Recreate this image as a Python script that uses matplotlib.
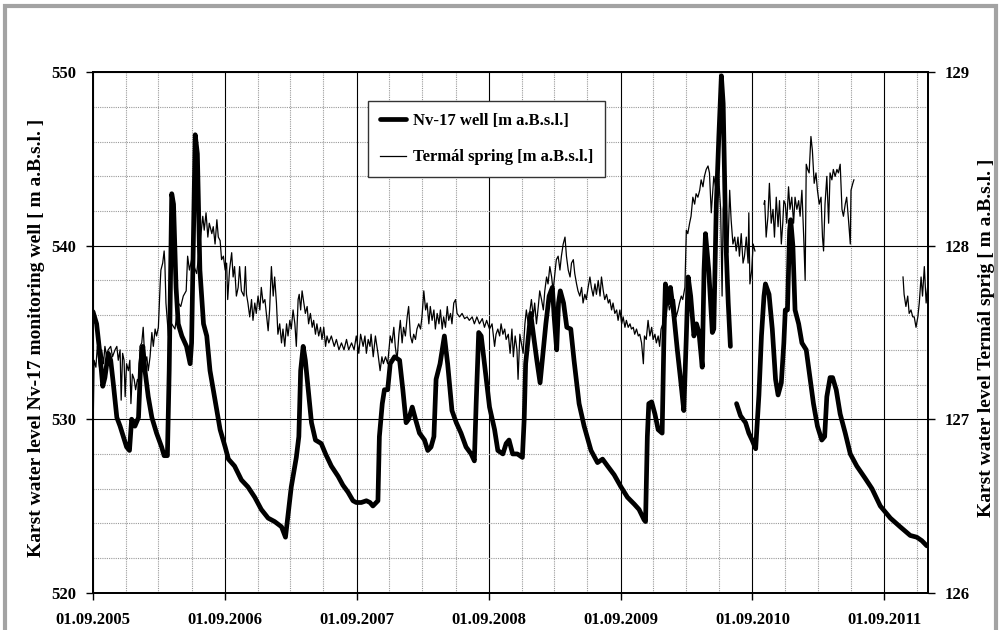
import numpy as np
import pandas as pd
import matplotlib
matplotlib.use("Agg")
import matplotlib.pyplot as plt
import matplotlib.dates as mdates
from matplotlib.patches import Rectangle
from matplotlib.ticker import MultipleLocator

plt.rcParams['font.family'] = ['Liberation Serif', 'DejaVu Serif']
plt.rcParams['font.weight'] = 'bold'

START = pd.Timestamp('2005-09-01')
END = pd.Timestamp('2012-01-01')

# Nv-17 well level [m a.B.s.l.]; day = days after 01.09.2005 (nan = gap)
well_day = [0, 10, 19, 27, 33, 42, 49, 56, 66, 75, 84, 93, 101, 107, 116, 126, 132, 138, 144, 153,
            163, 176, 190, 197, 206, 211, 218, 223, 230, 236, 246, 259, 269, 273, 278, 283, 289, 296,
            306, 315, 324, 338, 352, 366, 375, 392, 411, 429, 448, 466, 485, 503, 522, 533, 549, 563,
            570, 575, 582, 588, 596, 605, 616, 632, 644, 660, 679, 692, 706, 720, 729, 743, 757, 767,
            775, 789, 793, 801, 807, 816, 823, 835, 849, 858, 867, 874, 884, 893, 904, 918, 927, 936,
            944, 950, 961, 973, 982, 994, 1006, 1019, 1033, 1047, 1056, 1061, 1068, 1075, 1084, 1098,
            1112, 1121, 1135, 1144, 1152, 1162, 1175, 1189, 1194, 1198, 1208, 1212, 1220, 1229, 1238,
            1245, 1254, 1263, 1272, 1277, 1284, 1289, 1294, 1303, 1312, 1323, 1332, 1346, 1360, 1379,
            1397, 1411, 1425, 1443, 1462, 1480, 1499, 1512, 1526, 1530, 1535, 1539, 1547, 1556, 1565,
            1576, 1581, 1585, 1593, 1599, 1608, 1618, 1627, 1636, 1643, 1648, 1655, 1664, 1671, 1678,
            1687, 1692, 1696, 1705, 1715, 1719, 1726, 1733, 1740, 1745, 1752, 1759, 1765, 1773, 1782,
            1793, 1807, 1816, 1825, 1835, 1844, 1851, 1858, 1862, 1872, 1881, 1890, 1897, 1906, 1913,
            1917, 1923, 1929, 1932, 1938, 1944, 1954, 1963, 1975, 1986, 1995, 2006, 2018, 2026, 2032,
            2041, 2048, 2058, 2069, 2083, 2097, 2115, 2138, 2157, 2180, 2208, 2235, 2263, 2281, 2295,
            2309]
well_val = [536.2, 535.5, 533.8, 531.9, 532.4, 533.8, 533.4, 532.1, 530.1, 529.6, 529.0, 528.4, 528.2,
            530.0, 529.6, 530.1, 533.2, 534.2, 532.8, 531.3, 530.1, 529.2, 528.4, 527.9, 527.9, 532.8,
            543.0, 542.4, 537.6, 535.5, 534.8, 534.2, 533.2, 534.4, 540.5, 546.4, 545.3, 538.6, 535.5,
            534.8, 532.8, 531.1, 529.4, 528.4, 527.7, 527.3, 526.5, 526.1, 525.5, 524.8, 524.3, 524.1,
            523.8, 523.2, 526.1, 527.8, 529.0, 532.8, 534.2, 533.4, 531.7, 529.8, 528.8, 528.6, 528.0,
            527.3, 526.7, 526.2, 525.8, 525.3, 525.2, 525.2, 525.3, 525.2, 525.0, 525.3, 529.0, 530.9,
            531.7, 531.7, 533.2, 533.6, 533.4, 531.7, 529.8, 530.0, 530.7, 530.0, 529.2, 528.8, 528.2,
            528.4, 529.0, 532.3, 533.2, 534.8, 533.2, 530.5, 529.8, 529.2, 528.4, 528.0, 527.6, 530.9,
            535.0, 534.8, 533.2, 530.7, 529.4, 528.2, 528.0, 528.6, 528.8, 528.0, 528.0, 527.8, 530.0,
            533.2, 535.3, 536.1, 534.8, 533.4, 532.1, 533.6, 535.5, 537.1, 537.6, 535.9, 534.0, 536.7,
            537.4, 536.7, 535.3, 535.2, 533.4, 530.9, 529.6, 528.2, 527.5, 527.7, 527.3, 526.8, 526.1,
            525.5, 525.1, 524.8, 524.2, 524.1, 529.0, 530.9, 531.0, 530.3, 529.4, 529.2, 534.8, 537.8,
            536.7, 537.6, 536.1, 534.0, 532.3, 530.5, 534.8, 538.2, 537.1, 534.8, 535.5, 535.0, 533.0,
            538.6, 540.7, 538.6, 535.0, 535.2, 542.4, 546.3, 549.8, 548.2, 540.5, 536.7, 534.2, np.nan,
            530.9, 530.2, 529.8, 529.2, 528.8, 528.3, 531.4, 534.8, 537.1, 537.8, 537.2, 535.2, 532.3,
            531.4, 532.1, 534.4, 536.3, 536.3, 540.9, 541.5, 540.0, 536.3, 535.5, 534.4, 534.0, 532.3,
            530.9, 529.6, 528.8, 529.0, 531.3, 532.4, 532.4, 531.7, 530.3, 529.2, 528.0, 527.3, 526.6,
            526.0, 525.0, 524.3, 523.8, 523.3, 523.2, 523.0, 522.7]

# Termal spring level [m a.B.s.l.] (secondary axis); day = days after 01.09.2005 (nan = gap)
spring_day = [0, 3, 8, 12, 18, 24, 29, 33, 38, 42, 49, 54, 61, 66, 70, 75, 78, 82, 86, 89, 93, 98, 102,
              105, 109, 114, 118, 123, 127, 130, 135, 139, 144, 149, 153, 158, 163, 167, 172, 176, 181,
              186, 188, 193, 197, 199, 202, 209, 218, 227, 236, 243, 250, 258, 262, 267, 273, 280, 287,
              296, 304, 308, 313, 318, 322, 329, 333, 338, 343, 347, 352, 356, 361, 366, 370, 373, 378,
              384, 388, 392, 397, 402, 406, 411, 418, 422, 425, 429, 434, 439, 443, 448, 452, 457, 462,
              466, 471, 476, 480, 485, 489, 494, 499, 503, 508, 512, 517, 522, 526, 531, 536, 540, 545,
              549, 554, 559, 563, 568, 571, 575, 579, 584, 588, 593, 597, 602, 607, 611, 616, 620, 625,
              630, 634, 639, 644, 648, 653, 660, 668, 674, 681, 688, 695, 702, 708, 716, 723, 729, 736,
              741, 748, 753, 757, 762, 767, 770, 776, 782, 789, 795, 800, 804, 810, 816, 823, 828, 833,
              837, 842, 847, 851, 856, 860, 865, 870, 874, 879, 884, 888, 893, 897, 902, 907, 911, 916,
              921, 925, 930, 934, 939, 944, 948, 953, 958, 962, 967, 971, 976, 981, 985, 990, 994, 999,
              1004, 1008, 1015, 1022, 1029, 1036, 1042, 1050, 1056, 1063, 1070, 1078, 1084, 1090, 1098,
              1105, 1112, 1116, 1121, 1126, 1130, 1135, 1140, 1144, 1150, 1155, 1160, 1164, 1169, 1174,
              1177, 1182, 1186, 1191, 1196, 1200, 1205, 1210, 1214, 1219, 1223, 1228, 1233, 1237, 1242,
              1247, 1251, 1256, 1260, 1265, 1270, 1274, 1279, 1283, 1288, 1293, 1297, 1302, 1307, 1311,
              1316, 1321, 1325, 1330, 1334, 1339, 1343, 1348, 1353, 1357, 1362, 1366, 1371, 1376, 1380,
              1385, 1390, 1394, 1399, 1404, 1408, 1413, 1417, 1422, 1427, 1431, 1436, 1440, 1445, 1450,
              1454, 1459, 1464, 1468, 1473, 1477, 1482, 1487, 1491, 1496, 1500, 1505, 1510, 1514, 1519,
              1524, 1527, 1532, 1537, 1542, 1547, 1551, 1556, 1560, 1565, 1569, 1573, 1578, 1583, 1587,
              1592, 1596, 1601, 1606, 1610, 1615, 1620, 1624, 1629, 1633, 1639, 1643, 1647, 1652, 1656,
              1661, 1666, 1670, 1675, 1680, 1684, 1689, 1693, 1698, 1703, 1707, 1712, 1715, 1719, 1724,
              1729, 1733, 1738, 1742, 1745, 1750, 1753, 1758, 1763, 1767, 1772, 1777, 1781, 1786, 1790,
              1795, 1800, 1804, 1809, 1814, 1816, 1819, 1824, 1828, 1833, 1845, 1858, 1860, 1864, 1869,
              1873, 1878, 1883, 1887, 1892, 1897, 1901, 1906, 1910, 1913, 1917, 1921, 1926, 1930, 1935,
              1940, 1944, 1949, 1954, 1958, 1963, 1968, 1972, 1975, 1979, 1983, 1988, 1992, 1997, 2002,
              2006, 2011, 2016, 2020, 2023, 2027, 2032, 2037, 2041, 2046, 2050, 2055, 2060, 2064, 2069,
              2074, 2078, 2083, 2087, 2092, 2097, 2099, 2104, 2107, 2170, 2243, 2246, 2251, 2256, 2260,
              2265, 2270, 2274, 2279, 2284, 2288, 2293, 2297, 2302, 2307, 2311]
spring_val = [126.90, 127.34, 127.30, 127.42, 127.30, 127.40, 127.32, 127.42, 127.36, 127.40, 127.42,
              127.36, 127.40, 127.42, 127.34, 127.40, 127.11, 127.38, 127.34, 127.13, 127.32, 127.28,
              127.34, 127.09, 127.26, 127.23, 127.17, 127.23, 127.21, 127.42, 127.44, 127.53, 127.32,
              127.36, 127.28, 127.36, 127.50, 127.42, 127.52, 127.48, 127.53, 127.78, 127.86, 127.90,
              127.97, 127.90, 127.67, 127.48, 127.55, 127.52, 127.67, 127.65, 127.71, 127.74, 127.94,
              127.86, 127.92, 127.88, 127.84, 128.01, 128.17, 128.09, 128.19, 128.05, 128.13, 128.07,
              128.11, 128.01, 128.15, 128.05, 128.03, 127.92, 127.94, 127.86, 127.90, 127.69, 127.86,
              127.96, 127.82, 127.88, 127.71, 127.76, 127.88, 127.74, 127.71, 127.88, 127.72, 127.67,
              127.59, 127.69, 127.57, 127.67, 127.61, 127.71, 127.63, 127.76, 127.67, 127.69, 127.61,
              127.51, 127.63, 127.88, 127.71, 127.82, 127.67, 127.49, 127.55, 127.44, 127.52, 127.42,
              127.55, 127.48, 127.57, 127.52, 127.63, 127.55, 127.42, 127.69, 127.72, 127.63, 127.74,
              127.67, 127.61, 127.65, 127.55, 127.61, 127.53, 127.57, 127.49, 127.55, 127.48, 127.53,
              127.46, 127.53, 127.42, 127.48, 127.44, 127.48, 127.42, 127.46, 127.40, 127.44, 127.40,
              127.46, 127.40, 127.44, 127.40, 127.48, 127.38, 127.49, 127.42, 127.48, 127.38, 127.46,
              127.42, 127.49, 127.36, 127.48, 127.38, 127.28, 127.36, 127.32, 127.36, 127.32, 127.48,
              127.44, 127.53, 127.42, 127.34, 127.49, 127.57, 127.44, 127.53, 127.48, 127.59, 127.65,
              127.48, 127.44, 127.49, 127.46, 127.52, 127.55, 127.52, 127.59, 127.74, 127.63, 127.67,
              127.55, 127.65, 127.57, 127.63, 127.52, 127.61, 127.55, 127.63, 127.52, 127.59, 127.53,
              127.65, 127.57, 127.61, 127.55, 127.67, 127.69, 127.61, 127.59, 127.61, 127.58, 127.59,
              127.57, 127.59, 127.55, 127.59, 127.55, 127.58, 127.53, 127.57, 127.52, 127.55, 127.42,
              127.49, 127.52, 127.48, 127.55, 127.49, 127.52, 127.46, 127.49, 127.38, 127.52, 127.36,
              127.48, 127.40, 127.23, 127.49, 127.44, 127.38, 127.55, 127.63, 127.55, 127.63, 127.69,
              127.59, 127.67, 127.55, 127.65, 127.74, 127.69, 127.63, 127.74, 127.82, 127.78, 127.88,
              127.82, 127.74, 127.84, 127.92, 127.94, 127.86, 127.94, 128.01, 128.05, 127.94, 127.86,
              127.82, 127.90, 127.92, 127.84, 127.78, 127.74, 127.71, 127.76, 127.67, 127.72, 127.69,
              127.76, 127.82, 127.76, 127.71, 127.78, 127.72, 127.80, 127.71, 127.82, 127.74, 127.69,
              127.72, 127.67, 127.69, 127.63, 127.67, 127.61, 127.63, 127.57, 127.63, 127.55, 127.59,
              127.53, 127.57, 127.53, 127.55, 127.52, 127.53, 127.49, 127.52, 127.48, 127.49, 127.44,
              127.32, 127.48, 127.46, 127.57, 127.48, 127.53, 127.46, 127.49, 127.44, 127.48, 127.42,
              127.52, 127.55, 127.67, 127.59, 127.69, 127.63, 127.67, 127.59, 127.69, 127.59, 127.63,
              127.67, 127.71, 127.69, 127.76, 128.09, 128.07, 128.13, 128.17, 128.28, 128.24, 128.30,
              128.28, 128.32, 128.38, 128.34, 128.40, 128.44, 128.46, 128.42, 128.19, 128.28, 128.40,
              128.34, 128.46, 128.38, 128.21, 127.71, 128.21, 128.30, 128.17, 127.96, 128.32, 128.15,
              128.01, 128.05, 127.97, 128.05, 127.94, 128.07, 127.90, 127.94, 128.05, 127.90, 128.19,
              127.78, 127.86, 128.01, 127.97, np.nan, 128.24, 128.26, 128.05, 128.17, 128.36, 128.13,
              128.21, 128.05, 128.28, 128.11, 128.26, 128.01, 128.13, 128.26, 128.24, 128.13, 128.34,
              128.21, 128.28, 128.13, 128.28, 128.21, 128.26, 128.17, 128.32, 128.05, 127.80, 128.47,
              128.44, 128.42, 128.63, 128.55, 128.36, 128.42, 128.32, 128.24, 128.28, 128.05, 127.97,
              128.24, 128.40, 128.13, 128.42, 128.38, 128.44, 128.40, 128.44, 128.42, 128.47, 128.21,
              128.17, 128.24, 128.28, 128.15, 128.01, 128.32, 128.36, 128.38, np.nan, 127.82, 127.72,
              127.65, 127.71, 127.61, 127.63, 127.59, 127.59, 127.53, 127.59, 127.67, 127.82, 127.71,
              127.88, 127.67, 127.76]

well_label = 'Nv-17 well [m a.B.s.l.]'
spring_label = 'Termál spring [m a.B.s.l.]'
left_ylabel = 'Karst water level Nv-17 monitoring well [ m a.B.s.l. ]'
right_ylabel = 'Karst water level Termál sprig [ m a.B.s.l. ]'

well_dates = START + pd.to_timedelta(well_day, unit='D')
spring_dates = START + pd.to_timedelta(spring_day, unit='D')

W, H = 1001, 630
fig = plt.figure(figsize=(W / 100, H / 100), dpi=100)
fig.patch.set_facecolor('white')

L, R, T, B = 93, 928.3, 72.3, 592.7
ax = fig.add_axes([L / W, 1 - B / H, (R - L) / W, (B - T) / H])
ax2 = ax.twinx()

# outer grey frame
fig.patches.append(Rectangle((5 / W, -0.05), (W - 10) / W, 1.05 - 6 / H, transform=fig.transFigure,
                             fill=False, edgecolor='#a3a3a3', linewidth=3.0, zorder=0))

ax.set_xlim(START, END)
ax.set_ylim(520, 550)
ax2.set_ylim(126, 129)

ax.xaxis.set_major_locator(mdates.YearLocator(month=9, day=1))
ax.xaxis.set_minor_locator(mdates.MonthLocator(bymonth=[3, 6, 9, 12]))
ax.xaxis.set_major_formatter(mdates.DateFormatter('%d.%m.%Y'))
ax.yaxis.set_major_locator(MultipleLocator(10))
ax.yaxis.set_minor_locator(MultipleLocator(2))
ax2.yaxis.set_major_locator(MultipleLocator(1))

ax.grid(which='minor', color='#9a9a9a', linestyle=(0, (1, 1)), linewidth=0.8)
ax.grid(which='major', color='black', linestyle='-', linewidth=0.8)
ax.set_axisbelow(True)

lw_thick, = ax.plot(well_dates, well_val, color='black', linewidth=3.4, solid_joinstyle='round',
                    solid_capstyle='round', label=well_label, zorder=3)
lw_thin, = ax2.plot(spring_dates, spring_val, color='black', linewidth=0.9, label=spring_label, zorder=4)

for a in (ax, ax2):
    for s in a.spines.values():
        s.set_linewidth(1.3)
        s.set_color('black')

ax.tick_params(axis='x', which='major', direction='out', length=5, width=1, labelsize=12, pad=9)
ax.tick_params(axis='y', which='major', direction='out', length=5, width=1, labelsize=12, pad=7)
ax.tick_params(axis='y', which='minor', length=0)
ax.tick_params(axis='x', which='minor', length=0)
ax2.tick_params(axis='y', which='major', direction='out', length=5, width=1, labelsize=12, pad=7)
for lab in ax.get_xticklabels() + ax.get_yticklabels() + ax2.get_yticklabels():
    lab.set_fontweight('bold')

ax.set_ylabel(left_ylabel, fontsize=14, fontweight='bold', va='center')
ax.yaxis.set_label_coords(-56 / (R - L), 0.49)
ax2.set_ylabel(right_ylabel, fontsize=14, fontweight='bold', rotation=90, va='center')
ax2.yaxis.set_label_coords((987 - L) / (R - L), 0.49)

leg = ax2.legend(handles=[lw_thick, lw_thin], loc='upper left',
                 bbox_to_anchor=((368 - L) / (R - L), (B - 101) / (B - T)),
                 frameon=True, fancybox=False, framealpha=1, edgecolor='#333333',
                 prop={'family': 'Liberation Serif', 'weight': 'bold', 'size': 12},
                 handlelength=1.6, handletextpad=0.4, labelspacing=1.25, borderpad=0.7,
                 borderaxespad=0)
leg.get_frame().set_linewidth(1.0)

fig.savefig('out.png', dpi=100, facecolor='white')
